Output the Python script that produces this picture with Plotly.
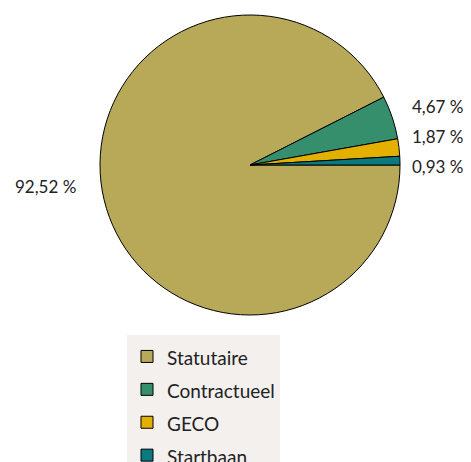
import math
import plotly.graph_objects as go

labels = ["Statutaire", "Contractueel", "GECO", "Startbaan"]
values = [92.52, 4.67, 1.87, 0.93]
colors = ["#b8a958", "#368f6c", "#e3b000", "#0b7a80"]
texts = ["92,52 %", "4,67 %", "1,87 %", "0,93 %"]

W, H = 471, 462
OFF = 8  # page body margin offset
# pie domain (paper fractions)
dom_x = [(100 - OFF) / W, (400 - OFF) / W]
dom_y = [1 - (315 - OFF) / H, 1 - (15 - OFF) / H]

legend_labels = ["<span style='font-size:19px'>%s</span>" % s for s in labels]

fig = go.Figure(go.Pie(
    labels=legend_labels, values=values, sort=False, direction="clockwise",
    rotation=90,
    marker=dict(colors=colors, line=dict(color="#000000", width=1)),
    textinfo="none",
    domain=dict(x=dom_x, y=dom_y),
    hoverinfo="percent",
))

# label placement derived from pie geometry (pixels)
cx = (dom_x[0] + dom_x[1]) / 2 * W
cy = (1 - (dom_y[0] + dom_y[1]) / 2) * H
r = min((dom_x[1] - dom_x[0]) * W, (dom_y[1] - dom_y[0]) * H) / 2
total = sum(values)
acc = 0.0
items = []
for v, t in zip(values, texts):
    mid = -(acc + v / 2) / total * 2 * math.pi
    acc += v
    side = 1 if math.cos(mid) >= 0 else -1
    k = 1.08 if side > 0 else 0.7
    g = 10 if side > 0 else 22
    x = cx + side * (r + g)
    y = cy - (r * k) * math.sin(mid) - 3
    items.append(dict(t=t, x=x, y=y, side=side))

gap = 30
for side in (1, -1):
    grp = sorted([it for it in items if it["side"] == side], key=lambda d: d["y"])
    for _ in range(200):
        for a, b in zip(grp, grp[1:]):
            d = b["y"] - a["y"]
            if d < gap:
                a["y"] -= (gap - d) / 2
                b["y"] += (gap - d) / 2

for it in items:
    fig.add_annotation(
        x=it["x"] / W, y=1 - it["y"] / H, xref="paper", yref="paper",
        text=it["t"], showarrow=False,
        xanchor="left" if it["side"] > 0 else "right", yanchor="middle",
        font=dict(family="Lato, Open Sans, sans-serif", size=17, color="#222222"),
    )

fig.update_layout(
    width=W, height=H,
    margin=dict(l=0, r=0, t=0, b=0, autoexpand=False),
    paper_bgcolor="white",
    showlegend=True,
    legend=dict(
        x=(127 - OFF) / W, y=1 - (335 - OFF) / H, xanchor="left", yanchor="top",
        bgcolor="#f3f0ee", font=dict(family="Lato, Open Sans, sans-serif", size=23, color="#222222"),
        itemclick=False,
    ),
)

fig.write_html("out.html")
